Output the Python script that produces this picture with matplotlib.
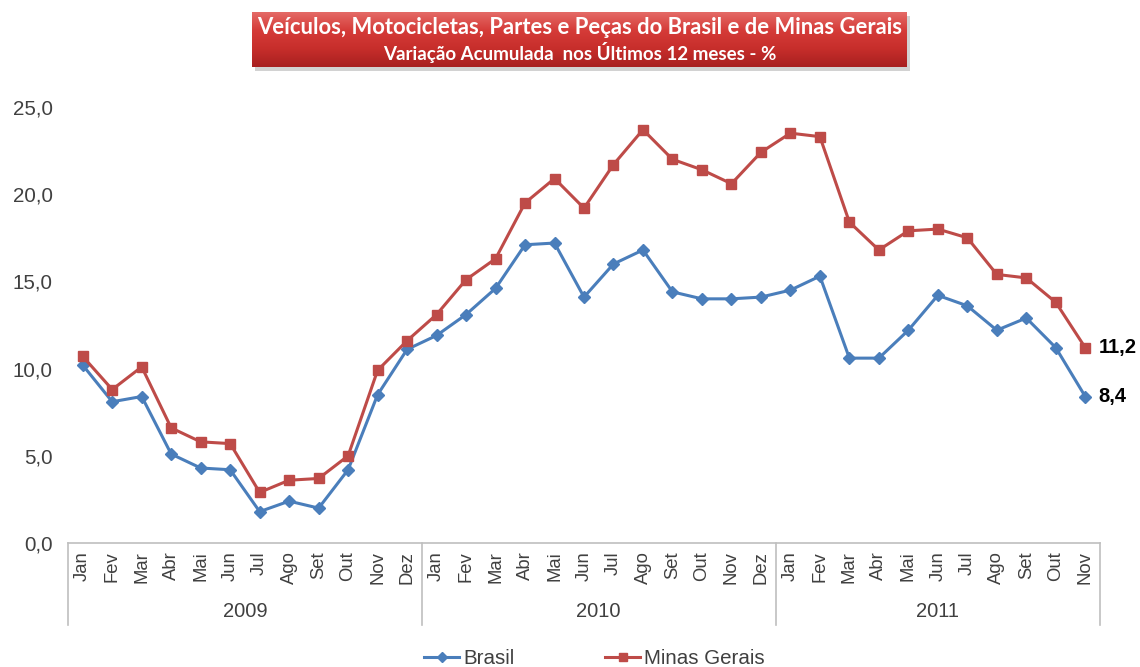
import numpy as np
import matplotlib.pyplot as plt
from matplotlib.patches import Rectangle
from matplotlib.colors import LinearSegmentedColormap
import matplotlib.transforms as mtransforms

plt.rcParams['font.family'] = ['Liberation Sans', 'DejaVu Sans']

# dados (variação acumulada 12 meses, %)
meses = ["Jan", "Fev", "Mar", "Abr", "Mai", "Jun", "Jul", "Ago", "Set", "Out", "Nov", "Dez"]
anos = ["2009", "2010", "2011"]
rotulos_x = meses + meses + meses[:11]

brasil = [10.2, 8.1, 8.4, 5.1, 4.3, 4.2, 1.8, 2.4, 2.0, 4.2, 8.5, 11.1,
          11.9, 13.1, 14.6, 17.1, 17.2, 14.1, 16.0, 16.8, 14.4, 14.0, 14.0, 14.1,
          14.5, 15.3, 10.6, 10.6, 12.2, 14.2, 13.6, 12.2, 12.9, 11.2, 8.4]
minas_gerais = [10.7, 8.8, 10.1, 6.6, 5.8, 5.7, 2.9, 3.6, 3.7, 5.0, 9.9, 11.6,
                13.1, 15.1, 16.3, 19.5, 20.9, 19.2, 21.7, 23.7, 22.0, 21.4, 20.6, 22.4,
                23.5, 23.3, 18.4, 16.8, 17.9, 18.0, 17.5, 15.4, 15.2, 13.8, 11.2]

azul = "#4a7ebb"
vermelho = "#be4b48"
cinza_txt = "#404040"
cinza_eixo = "#bfbfbf"

fig = plt.figure(figsize=(11.4, 6.67), dpi=100)
ax = fig.add_axes([68 / 1140, 1 - 543 / 667, (1100 - 68) / 1140, 436 / 667])

x = np.arange(len(rotulos_x))
ax.plot(x, brasil, color=azul, lw=2.2, marker="D", ms=6.5, label="Brasil")
ax.plot(x, minas_gerais, color=vermelho, lw=2.2, marker="s", ms=7.5, label="Minas Gerais")

ax.set_xlim(-0.5, len(rotulos_x) - 0.5)
ax.set_ylim(0, 25)
yt = np.arange(0, 25.1, 5)
ax.set_yticks(yt)
ax.set_yticklabels([f"{v:.1f}".replace(".", ",") for v in yt], fontsize=14.8, color=cinza_txt)
ax.tick_params(axis="y", length=0, pad=11)
ax.set_xticks(x)
ax.set_xticklabels(rotulos_x, rotation=90, fontsize=13.3, color=cinza_txt)
ax.tick_params(axis="x", length=0, pad=6)

for s in ["top", "right", "left"]:
    ax.spines[s].set_visible(False)
ax.spines["bottom"].set_color(cinza_eixo)
ax.spines["bottom"].set_linewidth(1.2)

# eixo de categorias em dois níveis
trans = mtransforms.blended_transform_factory(ax.transData, ax.transAxes)
for b in [-0.5, 11.5, 23.5, len(rotulos_x) - 0.5]:
    ax.plot([b, b], [0, -0.188], transform=trans, color=cinza_eixo, lw=1.2, clip_on=False)
centros = [5.5, 17.5, (24 + len(rotulos_x) - 1) / 2]
for c, ano in zip(centros, anos):
    ax.text(c, -0.158, ano, transform=trans, ha="center", va="center", fontsize=14.5, color=cinza_txt)

# rótulos dos últimos pontos
for serie in [minas_gerais, brasil]:
    ax.annotate(f"{serie[-1]:.1f}".replace(".", ","), (x[-1], serie[-1]),
                xytext=(9.5, 0), textcoords="offset points", ha="left", va="center",
                fontsize=14.5, fontweight="bold", color="black", annotation_clip=False)

fig.legend(loc="center", bbox_to_anchor=(0.5215, 1 - 659 / 667), ncol=2, frameon=False,
           fontsize=14.8, handlelength=1.7, handletextpad=0.2, columnspacing=4.4,
           labelcolor=cinza_txt, markerscale=0.8)

# faixa de título com degradê e sombra
x0, x1, y0, y1 = 252, 907, 12, 67
sombra = Rectangle(((x0 + 3) / 1140, 1 - (y1 + 4) / 667), (x1 - x0) / 1140, (y1 - y0) / 667,
                   transform=fig.transFigure, facecolor="#d2d2d2", edgecolor="none", zorder=-1)
fig.patches.append(sombra)
bx = fig.add_axes([x0 / 1140, 1 - y1 / 667, (x1 - x0) / 1140, (y1 - y0) / 667])
bx.set_zorder(3)
grad = np.linspace(0, 1, 100).reshape(-1, 1)
cmap = LinearSegmentedColormap.from_list("faixa", ["#e46a66", "#d53b38", "#c72e2b", "#a82020"])
bx.imshow(grad, aspect="auto", cmap=cmap, extent=[0, 1, 0, 1], origin="upper")
bx.set_xlim(0, 1)
bx.set_ylim(0, 1)
bx.axis("off")
bx.text(0.5, 0.71, "Veículos, Motocicletas, Partes e Peças do Brasil e de Minas Gerais",
        ha="center", va="center", color="white", fontsize=15.8, fontweight="bold",
        family=["Lato", "DejaVu Sans"])
bx.text(0.5, 0.27, "Variação Acumulada  nos Últimos 12 meses - %",
        ha="center", va="center", color="white", fontsize=13.5, fontweight="bold",
        family=["Lato", "DejaVu Sans"])

fig.savefig("out.png", dpi=100)
